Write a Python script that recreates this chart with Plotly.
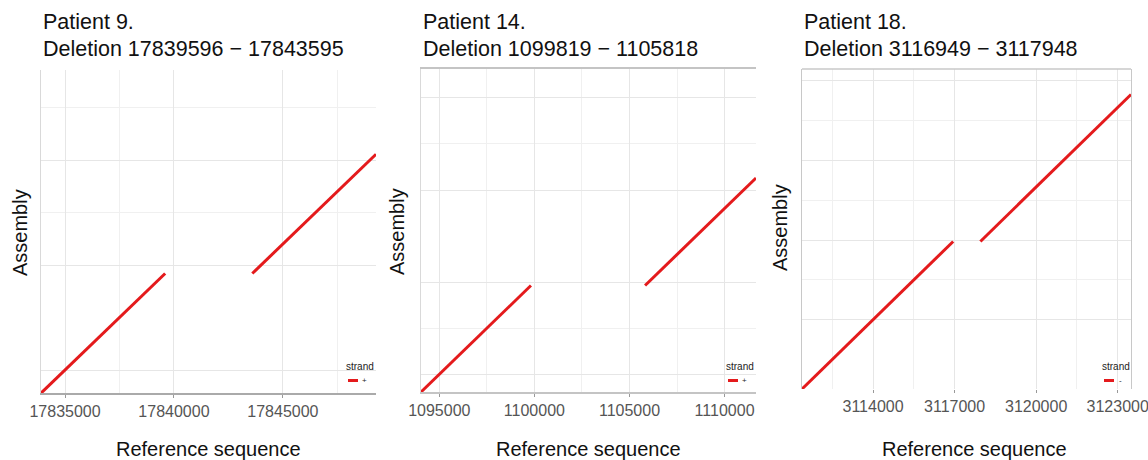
import plotly.graph_objects as go

W, H = 1148, 460

# ---------------- data ----------------
patients = ["Patient 9.", "Patient 14.", "Patient 18."]
deletions = ["Deletion 17839596 \u2212 17843595",
             "Deletion 1099819 \u2212 1105818",
             "Deletion 3116949 \u2212 3117948"]
strands = ["+", "+", "-"]

# Patient 9
p9_ref_seg1 = [17833897, 17839595]
p9_asm_seg1 = [17833897, 17839595]
p9_ref_seg2 = [17843596, 17849274]
p9_asm_seg2 = [17839596, 17845274]
p9_xrange = [17833897, 17849274]
p9_yrange = [17833905, 17849286]
p9_x_major = [17835000, 17840000, 17845000]
p9_x_minor = [17837500, 17847500]
p9_y_major = [17835000, 17840000, 17845000]
p9_y_minor = [17842500, 17847500]

# Patient 14
p14_ref_seg1 = [1094037, 1099818]
p14_asm_seg1 = [1094037, 1099818]
p14_ref_seg2 = [1105819, 1111653]
p14_asm_seg2 = [1099819, 1105653]
p14_xrange = [1094037, 1111653]
p14_yrange = [1094037, 1111570]
p14_x_major = [1095000, 1100000, 1105000, 1110000]
p14_x_minor = [1097500, 1102500, 1107500]
p14_y_major = [1095000, 1100000, 1105000, 1110000]
p14_y_minor = [1097500, 1107500]

# Patient 18
p18_ref_seg1 = [3111386, 3116948]
p18_asm_seg1 = [3111386, 3116948]
p18_ref_seg2 = [3117949, 3123490]
p18_asm_seg2 = [3116949, 3122490]
p18_xrange = [3111386, 3123490]
p18_yrange = [3111386, 3123452]
p18_x_major = [3114000, 3117000, 3120000, 3123000]
p18_x_minor = [3112500, 3115500, 3121500]
p18_y_major = [3114000, 3117000, 3120000, 3123000]
p18_y_minor = [3115500, 3118500, 3121500]

# ---------------- layout geometry (pixels) ----------------
panels = [
    dict(x0=41, x1=376, top=70, bottom=393,
         segs=[(p9_ref_seg1, p9_asm_seg1), (p9_ref_seg2, p9_asm_seg2)],
         xr=p9_xrange, yr=p9_yrange, xM=p9_x_major, xm=p9_x_minor,
         yM=p9_y_major, ym=p9_y_minor, ytitle_x=20, ytitle_y=233,
         xtitle_x=208, leg_x=344, style=1),
    dict(x0=421, x1=756, top=69, bottom=392,
         segs=[(p14_ref_seg1, p14_asm_seg1), (p14_ref_seg2, p14_asm_seg2)],
         xr=p14_xrange, yr=p14_yrange, xM=p14_x_major, xm=p14_x_minor,
         yM=p14_y_major, ym=p14_y_minor, ytitle_x=397, ytitle_y=232,
         xtitle_x=588, leg_x=724, style=2),
    dict(x0=802, x1=1131, top=69, bottom=389,
         segs=[(p18_ref_seg1, p18_asm_seg1), (p18_ref_seg2, p18_asm_seg2)],
         xr=p18_xrange, yr=p18_yrange, xM=p18_x_major, xm=p18_x_minor,
         yM=p18_y_major, ym=p18_y_minor, ytitle_x=780, ytitle_y=228,
         xtitle_x=974, leg_x=1100, style=3),
]

FONT = "Liberation Sans, Arial, sans-serif"
RED = "#E41A1C"


def px(x):
    return x / W


def py(y):
    return 1 - y / H


fig = go.Figure()
annotations = []
shapes = []

for i, p in enumerate(panels):
    n = "" if i == 0 else str(i + 1)
    xa, ya = "x" + n, "y" + n
    for ref, asm in p["segs"]:
        fig.add_trace(go.Scatter(
            x=ref, y=asm, mode="lines", xaxis=xa, yaxis=ya,
            line=dict(color=RED, width=3), showlegend=False,
            hoverinfo="skip"))

    grid_major = "#e6e6e6"
    grid_minor = "#f0f0f0"
    style = p["style"]
    if style == 1:
        xline = dict(showline=True, linecolor="#aaaaaa", linewidth=1.5, mirror=False)
        yline = dict(showline=True, linecolor="#d9d9d9", linewidth=1, mirror=False)
    elif style == 2:
        xline = dict(showline=True, linecolor="#c4c4c4", linewidth=1.5, mirror=True)
        yline = dict(showline=True, linecolor="#d9d9d9", linewidth=1, mirror=False)
    else:
        xline = dict(showline=False)
        yline = dict(showline=True, linecolor="#c8c8c8", linewidth=1.2, mirror=True)
        shapes.append(dict(
            type="line", xref=xa + " domain", yref=ya + " domain",
            x0=0, x1=1, y0=1, y1=1, line=dict(color="#c8c8c8", width=1.5)))

    fig.layout["xaxis" + n] = dict(
        domain=[px(p["x0"]), px(p["x1"])], anchor=ya,
        range=p["xr"], tickmode="array", tickvals=p["xM"],
        ticktext=[str(v) for v in p["xM"]],
        showgrid=True, gridcolor=grid_major, gridwidth=1,
        minor=dict(tickmode="array", tickvals=p["xm"], showgrid=True,
                   gridcolor=grid_minor, gridwidth=1, ticks=""),
        zeroline=False,
        ticks="outside", ticklen=3, tickcolor="#999999", tickwidth=1,
        tickfont=dict(family=FONT, size=16, color="#555555"),
        ticklabeloverflow="allow", automargin=False,
        fixedrange=True, **xline)
    fig.layout["yaxis" + n] = dict(
        domain=[py(p["bottom"]), py(p["top"])], anchor=xa,
        range=p["yr"], tickmode="array", tickvals=p["yM"],
        showticklabels=False,
        showgrid=True, gridcolor=grid_major, gridwidth=1,
        minor=dict(tickmode="array", tickvals=p["ym"], showgrid=True,
                   gridcolor=grid_minor, gridwidth=1, ticks=""),
        zeroline=False, automargin=False,
        fixedrange=True, **yline)

    # titles
    annotations.append(dict(
        text=patients[i], x=px(p["x0"]), y=py(22), xref="paper", yref="paper",
        xanchor="left", yanchor="middle", showarrow=False,
        font=dict(family=FONT, size=21.5, color="#111111")))
    annotations.append(dict(
        text=deletions[i], x=px(p["x0"]), y=py(49), xref="paper", yref="paper",
        xanchor="left", yanchor="middle", showarrow=False,
        font=dict(family=FONT, size=21.5, color="#111111")))
    # axis titles
    annotations.append(dict(
        text="Assembly", x=px(p["ytitle_x"]), y=py(p["ytitle_y"]),
        xref="paper", yref="paper", textangle=-90,
        xanchor="center", yanchor="middle", showarrow=False,
        font=dict(family=FONT, size=20, color="#111111")))
    annotations.append(dict(
        text="Reference sequence", x=px(p["xtitle_x"]), y=py(449),
        xref="paper", yref="paper",
        xanchor="center", yanchor="middle", showarrow=False,
        font=dict(family=FONT, size=20, color="#111111")))
    # legend
    lx = p["leg_x"]
    annotations.append(dict(
        text="strand", x=px(lx), y=py(366), xref="paper", yref="paper",
        xanchor="left", yanchor="middle", showarrow=False,
        font=dict(family=FONT, size=10, color="#222222")))
    shapes.append(dict(
        type="line", xref="paper", yref="paper",
        x0=px(lx + 4), x1=px(lx + 14), y0=py(380.5), y1=py(380.5),
        line=dict(color=RED, width=3)))
    annotations.append(dict(
        text=strands[i], x=px(lx + 20), y=py(380), xref="paper", yref="paper",
        xanchor="center", yanchor="middle", showarrow=False,
        font=dict(family=FONT, size=8, color="#222222")))

fig.update_layout(
    width=W, height=H, autosize=False,
    margin=dict(l=0, r=0, t=0, b=0, pad=0, autoexpand=False),
    paper_bgcolor="white", plot_bgcolor="white",
    showlegend=False,
    annotations=annotations, shapes=shapes,
)

fig.write_html(
    "out.html",
    config=dict(displayModeBar=False, responsive=False),
    post_script="document.body.style.margin='0';document.body.style.overflow='hidden';",
)
